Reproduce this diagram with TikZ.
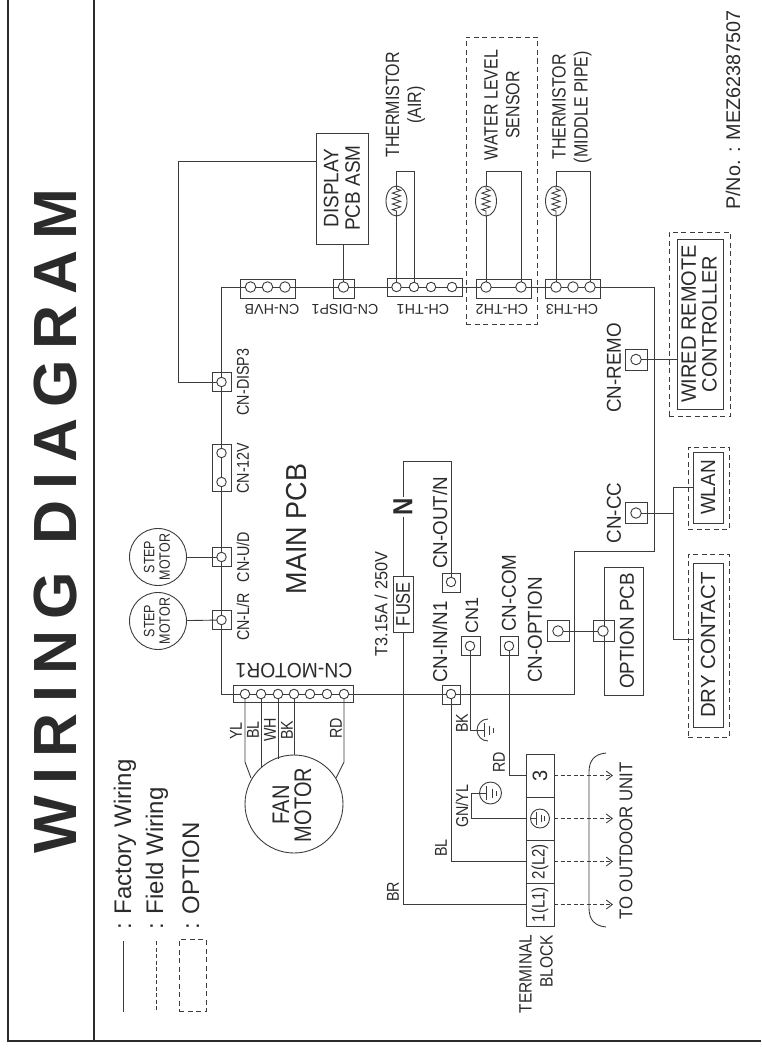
\documentclass[tikz,border=0pt]{standalone}
\usepackage{xcolor}
\usepackage{fontspec}
\setmainfont{Liberation Sans}
\newfontfamily\titlefont[LetterSpace=17.6]{Liberation Sans}
\usetikzlibrary{arrows.meta,shapes.geometric,decorations.pathmorphing}
\definecolor{wdark}{HTML}{2b2b2b}
\definecolor{wwire}{HTML}{3c3c3c}
\tikzset{
	wire/.style={color=wwire, line width=0.9pt},
	frameline/.style={color=wdark, line width=2pt},
	fieldwire/.style={color=wwire, line width=0.9pt, dash pattern=on 4pt off 2.5pt},
	optbox/.style={draw=wwire, line width=0.9pt, dash pattern=on 5pt off 3.5pt, rectangle, inner sep=0, outer sep=0},
	conbox/.style={draw=wwire, line width=0.9pt, rectangle, inner sep=0, outer sep=0},
	partbox/.style={conbox, fill=white, rotate=90, text=wdark},
	pin/.style={draw=wwire, line width=0.9pt, fill=white, circle, minimum size=9.5pt, inner sep=0, outer sep=0},
	bigpin/.style={pin, minimum size=10.5pt},
	ring/.style={draw=wwire, line width=0.9pt, fill=white, circle, minimum size=22pt, inner sep=0, outer sep=0},
	therm/.style={draw=wwire, line width=0.9pt, fill=white, ellipse, minimum width=21pt, minimum height=30pt, inner sep=0, outer sep=0},
	zig/.style={wire, decorate, decoration={zigzag, segment length=5.5pt, amplitude=4pt, pre length=3pt, post length=3pt}},
	txt/.style={text=wdark, inner sep=0, align=center},
	up/.style={txt, rotate=90},
	down/.style={txt, rotate=180, font=\fontsize{14.3}{15}\selectfont},
	fs/.style={font=\fontsize{14.3}{15}\selectfont, yscale=1.2},
	fm/.style={font=\fontsize{16}{18.3}\selectfont, yscale=1.2},
	fc/.style={font=\fontsize{18.8}{20}\selectfont, yscale=1.07},
	fl/.style={font=\fontsize{20}{20}\selectfont, yscale=1.04},
	earthbars/.pic={
		\draw[wire] (-11,0) -- (-3.7,0);
		\draw[wire] (-3.7,-7) -- (-3.7,7);
		\draw[wire] (1.7,-4.5) -- (1.7,4.5);
		\draw[wire] (5.7,-2.5) -- (5.7,2.5);
	},
}
\begin{document}
\begin{tikzpicture}[x=1pt, y=-1pt]
	\useasboundingbox (0,0) rectangle (761,1049);
	\coordinate (frameTL) at (8,0);
	\coordinate (frameBL) at (8,1041);
	\coordinate (frameBR) at (761,1041);
	\coordinate (splitT) at (94,0);
	\coordinate (splitB) at (94,1041);
	\draw[frameline] (frameTL) -- (frameBL) -- (frameBR);
	\draw[frameline] (splitT) -- (splitB);
	\node[up, font=\titlefont\fontsize{61}{61}\selectfont\bfseries] (title) at (55,521) {WIRING DIAGRAM};

	\node[txt, rotate=90, anchor=base west, font=\fontsize{24}{24}\selectfont] (legFactory) at (131,930) {: Factory Wiring};
	\node[txt, rotate=90, anchor=base west, font=\fontsize{24}{24}\selectfont] (legField) at (163,930) {: Field Wiring};
	\node[txt, rotate=90, anchor=base west, font=\fontsize{24}{24}\selectfont] (legOption) at (199,930) {: OPTION};
	\coordinate (legSolidA) at (123,941);
	\coordinate (legSolidB) at (123,1012);
	\coordinate (legDashA) at (156,941);
	\coordinate (legDashB) at (156,1012);
	\draw[wire] (legSolidA) -- (legSolidB);
	\draw[fieldwire] (legDashA) -- (legDashB);
	\node[optbox, minimum width=27pt, minimum height=72pt] (legBox) at (192.5,975.5) {};

	\coordinate (loopA) at (221.5,287);
	\coordinate (loopB) at (654,287);
	\coordinate (loopC) at (654,551);
	\coordinate (loopD) at (574,551);
	\coordinate (loopE) at (574,694);
	\coordinate (loopF) at (221.5,694);
	\draw[wire] (loopA) -- (loopB) -- (loopC) -- (loopD) -- (loopE) -- (loopF) -- cycle;

	\node[conbox, minimum width=120pt, minimum height=17pt] (cnMotor) at (293,693.5) {};
	\node[pin] (pmA) at (245,694) {};
	\node[pin] (pmB) at (261,694) {};
	\node[pin] (pmC) at (278,694) {};
	\node[pin] (pmD) at (294,694) {};
	\node[pin] (pmE) at (310,694) {};
	\node[pin] (pmF) at (327,694) {};
	\node[pin] (pmG) at (344,694) {};
	\node[down, font=\fontsize{19.3}{20}\selectfont, yscale=1.08] (lblMotor) at (294,671) {CN-MOTOR1};
	\node[ring, minimum size=98pt] (fan) at (294,804) {};
	\node[up, font=\fontsize{20}{18.3}\selectfont, yscale=1.2] (lblFan) at (292,805) {FAN\\MOTOR};
	\coordinate (fanYL) at (245,762);
	\coordinate (fanRD) at (344,762);
	\coordinate (fanYLend) at (251,778);
	\coordinate (fanRDend) at (336,778);
	\coordinate (fanBL) at (261,768);
	\coordinate (fanWH) at (278,759);
	\coordinate (fanBK) at (294,755);
	\draw[wire] (pmA) -- (fanYL) -- (fanYLend);
	\draw[wire] (pmB) -- (fanBL);
	\draw[wire] (pmC) -- (fanWH);
	\draw[wire] (pmD) -- (fanBK);
	\draw[wire] (pmG) -- (fanRD) -- (fanRDend);
	\node[up, fs] (lblYL) at (236,731) {YL};
	\node[up, fs] (lblBLa) at (253,730) {BL};
	\node[up, fs] (lblWH) at (270,730) {WH};
	\node[up, fs] (lblBKa) at (287,730) {BK};
	\node[up, fs] (lblRDa) at (336,728) {RD};

	\node[conbox, minimum width=19pt, minimum height=19pt] (cnLR) at (221.5,620) {};
	\node[conbox, minimum width=19pt, minimum height=19pt] (cnUD) at (221.5,557) {};
	\node[conbox, minimum width=19pt, minimum height=47pt] (cnTwelve) at (221.5,467.5) {};
	\node[conbox, minimum width=19pt, minimum height=19pt] (cnDispC) at (221.5,381.5) {};
	\node[pin] (pLR) at (221.5,620) {};
	\node[pin] (pUD) at (221.5,557) {};
	\node[pin] (pTwelveA) at (221.5,482) {};
	\node[pin] (pTwelveB) at (221.5,453) {};
	\node[pin] (pDispC) at (221.5,382) {};
	\node[up, fs] (lblLR) at (243,617) {CN-L/R};
	\node[up, fs] (lblUD) at (243,557) {CN-U/D};
	\node[up, fs] (lblTwelve) at (243,468) {CN-12V};
	\node[up, fs] (lblDispC) at (243,382) {CN-DISP3};
	\node[ring, minimum size=57pt] (stepA) at (158,621) {};
	\node[ring, minimum size=57pt] (stepB) at (158,557) {};
	\node[up, font=\fontsize{12.5}{13}\selectfont, yscale=1.2] (lblStepA) at (157,621) {STEP\\MOTOR};
	\node[up, font=\fontsize{12.5}{13}\selectfont, yscale=1.2] (lblStepB) at (157,557) {STEP\\MOTOR};
	\draw[wire] (stepA) -- (pLR);
	\draw[wire] (stepB) -- (pUD);
	\node[up, font=\fontsize{27}{27}\selectfont, yscale=1.07] (lblMain) at (297,529) {MAIN PCB};

	\node[partbox, minimum width=111pt, minimum height=52pt] (display) at (342,188.5) {};
	\node[up, font=\fontsize{19}{19.5}\selectfont, yscale=1.1] (lblDisplay) at (342,188) {DISPLAY\\PCB ASM};
	\coordinate (dispOut) at (316,161);
	\coordinate (dispCornerA) at (178,161);
	\coordinate (dispCornerB) at (178,382);
	\draw[wire] (dispOut) -- (dispCornerA) -- (dispCornerB) -- (pDispC);

	\node[conbox, minimum width=55pt, minimum height=19pt] (cnHvb) at (267.5,288.5) {};
	\node[bigpin] (phA) at (250.5,287) {};
	\node[bigpin] (phB) at (267.5,287) {};
	\node[bigpin] (phC) at (285,287) {};
	\node[down] (lblHvb) at (272,309) {CN-HVB};
	\node[conbox, minimum width=21pt, minimum height=19pt] (cnDispA) at (343.5,288.5) {};
	\node[bigpin] (pDispA) at (343.5,287) {};
	\node[down] (lblDispA) at (345,309) {CN-DISP1};
	\coordinate (dispIn) at (343.5,244);
	\draw[wire] (pDispA) -- (dispIn);

	\node[conbox, minimum width=75pt, minimum height=18pt] (cnThA) at (424.5,287) {};
	\node[pin] (pTaA) at (396.5,287) {};
	\node[pin] (pTaB) at (414,287) {};
	\node[pin] (pTaC) at (431,287) {};
	\node[pin] (pTaD) at (452,287) {};
	\node[down] (lblThA) at (423,309) {CH-TH1};
	\node[therm] (thermA) at (396.5,201) {};
	\coordinate (thermAtl) at (396.5,171);
	\coordinate (thermAtr) at (414,171);
	\draw[wire] (pTaA) -- (thermA.south);
	\draw[wire] (thermA.north) -- (thermAtl) -- (thermAtr) -- (pTaB);
	\draw[zig] (thermA.north) -- (thermA.south);
	\node[up, fm] (lblThermA) at (405.5,105) {THERMISTOR\\(AIR)};

	\node[conbox, minimum width=55pt, minimum height=19pt] (cnThB) at (503.5,288.5) {};
	\node[bigpin] (pTbA) at (486,287) {};
	\node[bigpin] (pTbB) at (521,287) {};
	\node[down] (lblThB) at (502,309) {CH-TH2};
	\node[therm] (thermB) at (486,201) {};
	\coordinate (thermBtl) at (486,171);
	\coordinate (thermBtr) at (521,171);
	\draw[wire] (pTbA) -- (thermB.south);
	\draw[wire] (thermB.north) -- (thermBtl) -- (thermBtr) -- (pTbB);
	\draw[zig] (thermB.north) -- (thermB.south);
	\node[up, fm] (lblThermB) at (502,105) {WATER LEVEL\\SENSOR};
	\node[optbox, minimum width=71pt, minimum height=287pt] (optWater) at (501.5,180.5) {};

	\node[conbox, minimum width=55pt, minimum height=19pt] (cnThC) at (572.5,288.5) {};
	\node[bigpin] (pTcA) at (556,287) {};
	\node[bigpin] (pTcB) at (573,287) {};
	\node[bigpin] (pTcC) at (590,287) {};
	\node[down] (lblThC) at (572,309) {CH-TH3};
	\node[therm] (thermC) at (556,201) {};
	\coordinate (thermCtl) at (556,171);
	\coordinate (thermCtr) at (590,171);
	\draw[wire] (pTcA) -- (thermC.south);
	\draw[wire] (thermC.north) -- (thermCtl) -- (thermCtr) -- (pTcC);
	\draw[zig] (thermC.north) -- (thermC.south);
	\node[up, fm] (lblThermC) at (572,107) {THERMISTOR\\(MIDDLE PIPE)};

	\node[up, font=\fontsize{19.8}{20}\selectfont] (lblPartNo) at (733,110) {P/No. : MEZ62387507};

	\node[partbox, minimum width=170pt, minimum height=46pt] (wired) at (700,324) {};
	\node[up, fl] (lblWired) at (699,324) {WIRED REMOTE\\CONTROLLER};
	\node[optbox, minimum width=61pt, minimum height=184pt] (optWired) at (699.5,324) {};
	\node[conbox, minimum width=22pt, minimum height=21pt] (cnRemo) at (636,359.5) {};
	\node[bigpin] (pRemo) at (636,359.5) {};
	\node[up, fc] (lblRemo) at (614,368) {CN-REMO};
	\coordinate (wiredIn) at (677,359.5);
	\draw[wire] (pRemo) -- (wiredIn);

	\node[conbox, minimum width=22pt, minimum height=21pt] (cnCc) at (636,513) {};
	\node[bigpin] (pCc) at (636,513) {};
	\node[up, fc] (lblCc) at (614,513) {CN-CC};
	\node[partbox, minimum width=71pt, minimum height=30pt] (wlan) at (708,487.5) {};
	\node[up, font=\fontsize{19}{20}\selectfont, yscale=1.08] (lblWlan) at (708,487.5) {WLAN};
	\node[optbox, minimum width=41pt, minimum height=82pt] (optWlan) at (708.5,488) {};
	\node[partbox, minimum width=164pt, minimum height=30pt] (dry) at (708,645) {};
	\node[up, font=\fontsize{20.4}{20}\selectfont] (lblDry) at (708,645) {DRY CONTACT};
	\node[optbox, minimum width=41pt, minimum height=183pt] (optDry) at (708.5,645.5) {};
	\coordinate (ccJoin) at (673,513);
	\coordinate (wlanIn) at (693,487);
	\coordinate (dryIn) at (693,639);
	\draw[wire] (pCc) -- (ccJoin);
	\draw[wire] (ccJoin) |- (wlanIn);
	\draw[wire] (ccJoin) |- (dryIn);

	\node[partbox, minimum width=128pt, minimum height=39pt] (optPcb) at (623.5,631) {};
	\node[up, fc] (lblOptPcb) at (627,631) {OPTION PCB};
	\node[conbox, minimum width=21pt, minimum height=21pt] (cnOptB) at (603.5,630.5) {};
	\node[bigpin] (pOptB) at (603,631) {};
	\node[conbox, minimum width=22pt, minimum height=21pt] (cnOptA) at (558,630.5) {};
	\node[bigpin] (pOptA) at (558,631) {};
	\node[up, fc] (lblOptA) at (535,630) {CN-OPTION};
	\draw[wire] (pOptA) -- (pOptB);

	\node[conbox, minimum width=18pt, minimum height=19pt] (cnOut) at (451.5,582.5) {};
	\node[pin] (pOut) at (451,582) {};
	\node[up, fc] (lblOut) at (440,523) {CN-OUT/N};
	\node[conbox, minimum width=18pt, minimum height=19pt] (cnIn) at (451.5,694.5) {};
	\node[pin] (pIn) at (451,694) {};
	\node[up, fc] (lblIn) at (440,642) {CN-IN/N1};
	\node[conbox, minimum width=19pt, minimum height=19pt] (cnOne) at (470.5,645.5) {};
	\node[pin] (pOne) at (470,646) {};
	\node[up, font=\fontsize{18}{18}\selectfont] (lblOne) at (472,615) {CN1};
	\node[conbox, minimum width=18pt, minimum height=19pt] (cnCom) at (509,645.5) {};
	\node[pin] (pCom) at (509,646) {};
	\node[up, fc] (lblCom) at (509,593) {CN-COM};

	\node[partbox, minimum width=56pt, minimum height=20pt] (fuse) at (403,604) {};
	\node[up, font=\fontsize{16.5}{18}\selectfont, yscale=1.2] (lblFuse) at (403,604) {FUSE};
	\node[up, font=\fontsize{16.3}{18}\selectfont, yscale=1.08] (lblRating) at (381,604) {T3.15A / 250V};
	\node[up, font=\bfseries\fontsize{24}{24}\selectfont, inner sep=1pt, yscale=1.15] (nMark) at (403,507) {N};
	\coordinate (outCornerA) at (451,461.5);
	\coordinate (outCornerB) at (403,461.5);
	\draw[wire] (pOut) -- (outCornerA) -- (outCornerB) -- (nMark.east);
	\draw[wire] (nMark.west) -- (fuse.east);

	\node[partbox, minimum width=43pt, minimum height=28pt] (termA) at (540,775.5) {};
	\node[partbox, minimum width=43pt, minimum height=28pt] (termB) at (540,818.5) {};
	\node[partbox, minimum width=43pt, minimum height=28pt] (termC) at (540,861.5) {};
	\node[partbox, minimum width=43pt, minimum height=28pt] (termD) at (540,904.5) {};
	\node[up, fl] (lblTermA) at (540,775.5) {3};
	\node[ring, minimum size=19pt] (gndTerm) at (540,818.5) {};
	\pic[scale=0.86] at (540,818.5) {earthbars};
	\node[up, font=\fontsize{15}{18}\selectfont, yscale=1.2] (lblTermC) at (540,861.5) {2(L2)};
	\node[up, font=\fontsize{15}{18}\selectfont, yscale=1.2] (lblTermD) at (540,904.5) {1(L1)};
	\node[up, font=\fontsize{15.5}{18.3}\selectfont, align=right, yscale=1.15] (lblBlock) at (536,974) {TERMINAL\\BLOCK};

	\draw[wire] (pIn) |- (termC.north);
	\draw[wire] (fuse.west) |- (termD.north);
	\draw[wire] (pCom) |- (termA.north);
	\node[ring] (gndWire) at (490.5,793) {};
	\pic at (490.5,793) {earthbars};
	\coordinate (gnCorner) at (471,793);
	\coordinate (gnCornerB) at (471,818.5);
	\draw[wire] (gndWire.west) -- (gnCorner) -- (gnCornerB) -- (termB.north);
	\coordinate (gndOpen) at (488,719);
	\draw[wire] (gndOpen) arc[start angle=90, end angle=270, radius=11pt];
	\pic at (488,730) {earthbars};
	\coordinate (gndOpenIn) at (477,730);
	\draw[wire] (pOne) |- (gndOpenIn);

	\node[up, fs] (lblBKb) at (462,723) {BK};
	\node[up, fs] (lblRDb) at (499,762) {RD};
	\node[up, fs] (lblGN) at (462,806) {GN/YL};
	\node[up, fs] (lblBLb) at (441,848) {BL};
	\node[up, fs] (lblBR) at (393,892) {BR};

	\coordinate (outA) at (613,775.5);
	\coordinate (outB) at (613,818.5);
	\coordinate (outC) at (613,861.5);
	\coordinate (outD) at (613,904.5);
	\draw[fieldwire, -{Straight Barb[length=6pt, width=9pt]}] (termA.south) -- (outA);
	\draw[fieldwire, -{Straight Barb[length=6pt, width=9pt]}] (termB.south) -- (outB);
	\draw[fieldwire, -{Straight Barb[length=6pt, width=9pt]}] (termC.south) -- (outC);
	\draw[fieldwire, -{Straight Barb[length=6pt, width=9pt]}] (termD.south) -- (outD);
	\coordinate (braceA) at (606,753);
	\coordinate (braceB) at (589,772);
	\coordinate (braceC) at (589,908);
	\coordinate (braceD) at (606,927);
	\draw[wire] (braceA) .. controls (595,754) and (589,760) .. (braceB) -- (braceC) .. controls (589,920) and (595,926) .. (braceD);
	\node[up, font=\fontsize{16.8}{17}\selectfont, yscale=1.1] (lblOutdoor) at (626,841) {TO OUTDOOR UNIT};
\end{tikzpicture}
\end{document}
